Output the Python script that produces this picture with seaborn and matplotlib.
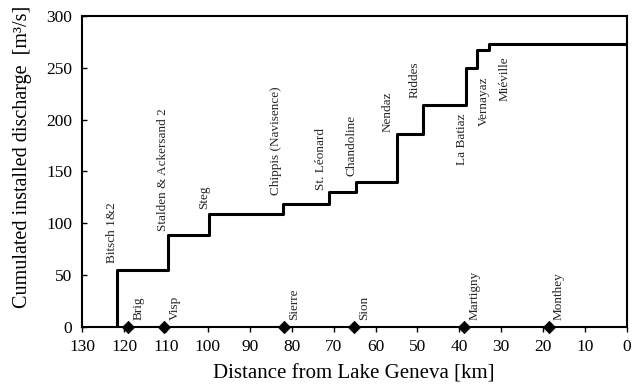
import matplotlib
matplotlib.use("Agg")
import matplotlib.pyplot as plt
import seaborn as sns
import pandas as pd

# Power plants: distance from Lake Geneva [km] and cumulated installed discharge [m3/s]
plants = ["Bitsch 1&2", "Stalden & Ackersand 2", "Steg", "Chippis (Navisence)",
          "St. Léonard", "Chandoline", "Nendaz", "Riddes", "La Batiaz",
          "Vernayaz", "Miéville"]
plant_km = [121.6, 109.5, 99.7, 82.0, 71.0, 64.7, 54.9, 48.7, 38.4, 35.8, 32.9]
cum_discharge = [55, 89, 109, 119, 130, 140, 186, 214, 250, 267, 273]

# Cities along the Rhône
cities = ["Brig", "Visp", "Sierre", "Sion", "Martigny", "Monthey"]
city_km = [119.0, 110.4, 81.8, 65.2, 38.8, 18.7]
city_val = [0, 0, 0, 0, 0, 0]

# Label anchor positions (km, discharge) and vertical alignment
label_x = [122.9, 110.75, 100.9, 83.8, 73.06, 65.67, 57.0, 50.56, 39.28, 34.03, 29.3]
label_y = [62, 92.9, 113.8, 127.3, 132, 146, 188.4, 221.2, 206.4, 242, 260.7]
label_va = ["bottom"] * 8 + ["top"] * 3

sns.set_theme(style="white")
plt.rcParams["font.family"] = ["Liberation Serif", "DejaVu Serif"]

fig = plt.figure(figsize=(6.32, 3.89), dpi=100)
ax = fig.add_axes([0.13, 0.1594, 0.862, 0.7995])

step_df = pd.DataFrame({
    "km": [plant_km[0]] + plant_km + [0.0],
    "q": [0] + cum_discharge + [cum_discharge[-1]],
})
sns.lineplot(data=step_df, x="km", y="q", sort=False, estimator=None,
             drawstyle="steps-post", color="black", linewidth=2.2, ax=ax)

city_df = pd.DataFrame({"km": city_km, "q": city_val})
sns.scatterplot(data=city_df, x="km", y="q", marker="D", s=40, color="black",
                edgecolor="black", zorder=5, clip_on=False, ax=ax)

for name, x, y, va in zip(plants, label_x, label_y, label_va):
    ax.text(x, y, name, rotation=90, ha="center", va=va, fontsize=9.5)

for name, x, y in zip(cities, city_km, city_val):
    ax.annotate(name, (x, y), xytext=(7.5, 5.0), textcoords="offset points",
                rotation=90, ha="center", va="bottom", fontsize=9.5)

ax.set_xlim(130, 0)
ax.set_ylim(0, 300)
ax.set_xticks(range(130, -1, -10))
ax.set_yticks(range(0, 301, 50))
ax.tick_params(axis="x", direction="out", length=3.5, width=1, labelsize=12.5, pad=5.5,
               bottom=True, top=False, colors="black")
ax.tick_params(axis="y", direction="in", length=3.5, width=1, labelsize=12.5, pad=7,
               left=True, right=False, colors="black")
for s in ax.spines.values():
    s.set_color("black")
    s.set_linewidth(1.5)
ax.set_xlabel("Distance from Lake Geneva [km]", fontsize=15, color="black")
ax.set_ylabel("Cumulated installed discharge  [m³/s]", fontsize=14.5, color="black")
ax.xaxis.set_label_coords(0.499, -0.119)
ax.yaxis.set_label_coords(-0.092, 0.548)
ax.grid(False)

fig.savefig("out.png", dpi=100)
